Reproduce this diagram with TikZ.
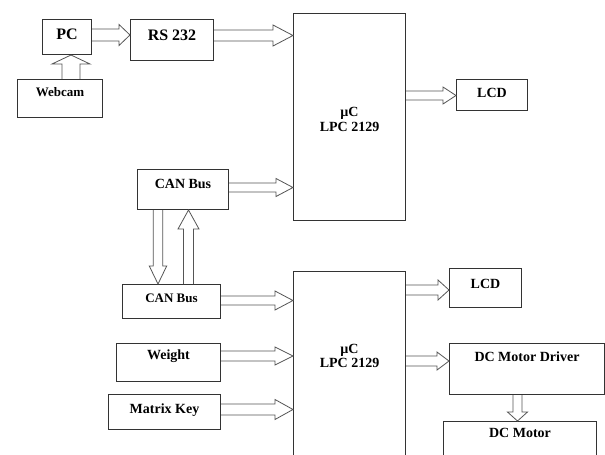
\documentclass[tikz,border=0pt]{standalone}
\usepackage{fontspec}
\setmainfont{Liberation Serif}
\usetikzlibrary{calc}
\definecolor{boxcol}{HTML}{333333}
\definecolor{arrcol}{HTML}{555555}
\newcommand\lift[2]{\raisebox{#1}[0pt][0pt]{#2}}
\newcommand\twoline[3]{\raisebox{#1}[0pt][0pt]{\begin{tabular}[b]{@{}c@{}}#2\\#3\end{tabular}}}
\begin{document}
\begin{tikzpicture}[x=1pt,y=-1pt,
  box/.style={draw=boxcol, line width=1pt, inner sep=0pt, anchor=north west,
    font=\bfseries\fontsize{14}{14.5}\selectfont},
  big/.style={font=\bfseries\fontsize{16}{17}\selectfont},
  small/.style={font=\bfseries\fontsize{13}{14}\selectfont},
  barrow/.style n args={3}{draw=arrcol, line width=0.8pt, to path={
    let \p1=(\tikztostart), \p2=(\tikztotarget),
        \n1={atan2(\y2-\y1,\x2-\x1)}, \n2={veclen(\x2-\x1,\y2-\y1)} in
    ([shift={(\p1)},rotate=\n1]0pt,#1pt)
    -- ([shift={(\p1)},rotate=\n1]{\n2-#3pt},#1pt)
    -- ([shift={(\p1)},rotate=\n1]{\n2-#3pt},#2pt)
    -- ([shift={(\p1)},rotate=\n1]\n2,0pt)
    -- ([shift={(\p1)},rotate=\n1]{\n2-#3pt},-#2pt)
    -- ([shift={(\p1)},rotate=\n1]{\n2-#3pt},-#1pt)
    -- ([shift={(\p1)},rotate=\n1]0pt,-#1pt)}}
]
\fill[white] (0,0) rectangle (605,455);
\useasboundingbox (0,0) rectangle (605,455);

% boxes
\node[box, big, minimum width=49pt, minimum height=35pt] (pc) at (42,19) {\lift{-2.8pt}{PC}};
\node[box, small, minimum width=85pt, minimum height=38pt] (webcam) at (17,79) {\lift{2.3pt}{Webcam}};
\node[box, big, minimum width=83pt, minimum height=41pt] (rs) at (130,19) {\lift{0pt}{RS 232}};
\node[box, minimum width=112pt, minimum height=207pt] (uc1) at (293,13) {\twoline{-14.2pt}{µC}{LPC 2129}};
\node[box, minimum width=71pt, minimum height=31pt] (lcd1) at (456,79) {\lift{-2.2pt}{LCD}};
\node[box, minimum width=91pt, minimum height=40pt] (can1) at (137,169) {\lift{0.7pt}{CAN Bus}};
\node[box, small, minimum width=98pt, minimum height=34pt] (can2) at (122,284) {\lift{-0.7pt}{CAN Bus}};
\node[box, minimum width=104pt, minimum height=38pt] (weight) at (116,343) {\lift{3.3pt}{Weight}};
\node[box, minimum width=112pt, minimum height=35pt] (matrix) at (108,394) {\lift{-1.8pt}{Matrix Key}};
\node[box, minimum width=112pt, minimum height=200pt] (uc2) at (293,271) {\twoline{4pt}{µC}{LPC 2129}};
\node[box, minimum width=72pt, minimum height=39pt] (lcd2) at (449,268) {\lift{0pt}{LCD}};
\node[box, minimum width=155pt, minimum height=51pt] (driver) at (449,343) {\lift{7.5pt}{DC Motor Driver}};
\node[box, minimum width=153pt, minimum height=60pt] (motor) at (443,421) {\lift{14.3pt}{DC Motor}};

% block arrows
\draw[barrow={6}{10.5}{11}] (pc.east |- 0,35) to (rs.west |- 0,35);
\draw[barrow={5.5}{10.5}{20}] (rs.east |- 0,35.5) to (uc1.west |- 0,35.5);
\draw[barrow={9}{19}{9}] (webcam.north -| 71,0) to (pc.south -| 71,0);
\draw[barrow={4.5}{8.5}{13}] (uc1.east |- 0,95.5) to (lcd1.west |- 0,95.5);
\draw[barrow={4.5}{9}{17}] (can1.east |- 0,187.5) to (uc1.west |- 0,187.5);
\draw[barrow={4.7}{8.7}{18}] (can1.south -| 158,0) to (can2.north -| 158,0);
\draw[barrow={5}{10.5}{19}] (can2.north -| 188.5,0) to (can1.south -| 188.5,0);
\draw[barrow={4.5}{9.5}{18}] (can2.east |- 0,300.5) to (uc2.west |- 0,300.5);
\draw[barrow={5}{9}{18}] (weight.east |- 0,356) to (uc2.west |- 0,356);
\draw[barrow={5.5}{10}{18}] (matrix.east |- 0,409.5) to (uc2.west |- 0,409.5);
\draw[barrow={5}{10}{11}] (uc2.east |- 0,290) to (lcd2.west |- 0,290);
\draw[barrow={5}{9}{12}] (uc2.east |- 0,361) to (driver.west |- 0,361);
\draw[barrow={4.5}{10}{9}] (driver.south -| 517.5,0) to (motor.north -| 517.5,0);
\end{tikzpicture}
\end{document}
